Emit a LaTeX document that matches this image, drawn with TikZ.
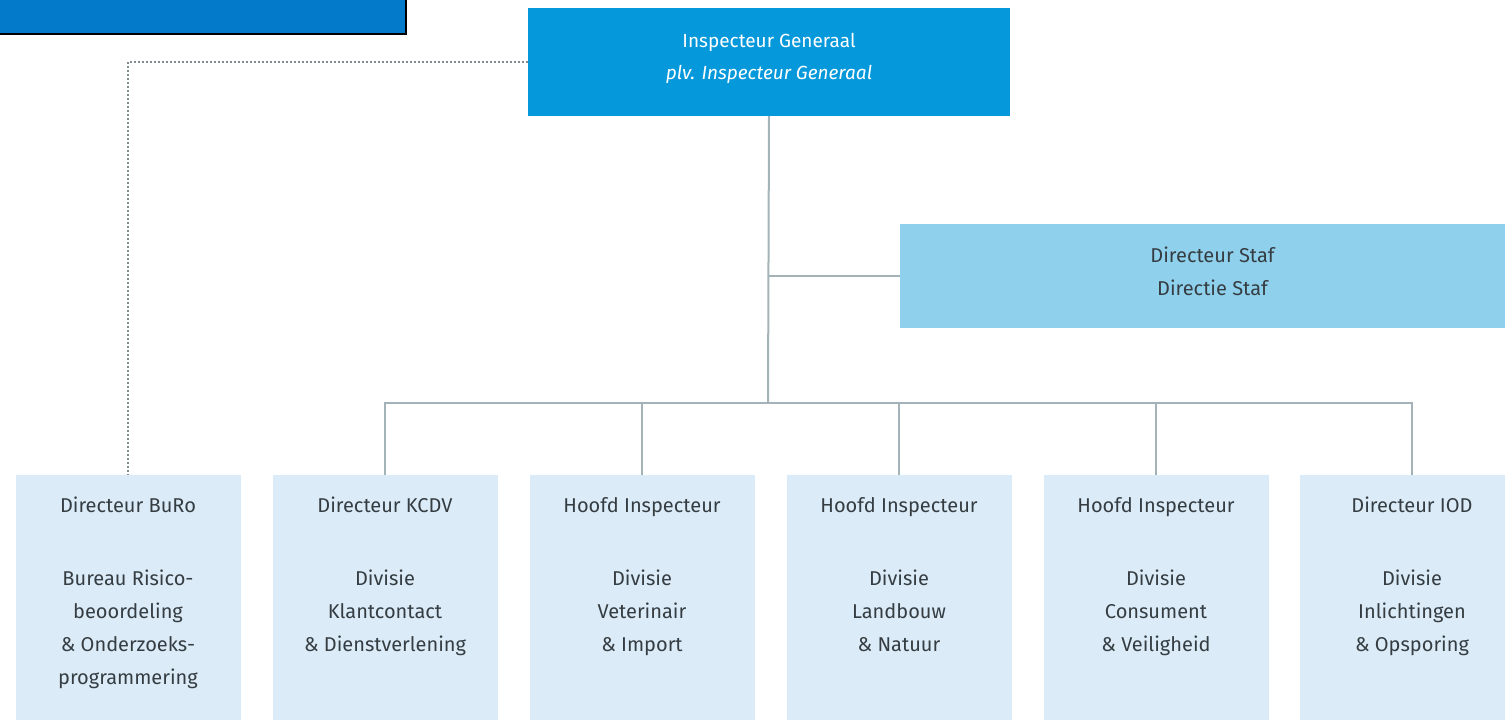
\documentclass[tikz,border=0pt]{standalone}
\usepackage{fontspec}
\setmainfont{Fira Sans}
\usetikzlibrary{positioning}
\definecolor{bannerblue}{HTML}{037ACA}
\definecolor{igblue}{HTML}{0598DB}
\definecolor{stafblue}{HTML}{8FD1EC}
\definecolor{divblue}{HTML}{DBECF8}
\definecolor{linegray}{HTML}{A3B3B8}
\definecolor{dashgray}{HTML}{7F8C90}
\definecolor{txtgray}{HTML}{353D42}

\begin{document}
\begin{tikzpicture}[x=1pt,y=-1pt,
    banner/.style={fill=bannerblue,draw=black,line width=2pt,minimum width=411pt,minimum height=39pt},
    igbox/.style={fill=igblue,text=white,minimum width=482pt,minimum height=108pt,align=center,
        text depth=12pt,font=\fontsize{19}{32}\selectfont},
    stafbox/.style={fill=stafblue,text=txtgray,minimum width=625pt,minimum height=104pt,align=center,
        text depth=9pt,font=\fontsize{20}{33}\selectfont},
    divbox/.style={fill=divblue,minimum width=225pt,minimum height=255pt},
    divtext/.style={text=txtgray,align=center,inner sep=0pt,font=\fontsize{20}{33}\selectfont},
    orgline/.style={draw=linegray,line width=2pt},
    dashline/.style={draw=dashgray,line width=1.5pt,dash pattern=on 2pt off 2pt}]
    \useasboundingbox (0,0) rectangle (1505,720);
    \node[banner] (banner) at (200.5,14.5) {};
    \node[igbox] (ig) at (769,62) {Inspecteur Generaal\\{\itshape plv. Inspecteur Generaal}};
    \node[stafbox] (staf) at (1212.5,276) {Directeur Staf\\Directie Staf};
    \coordinate (bus) at (768,403);
    \foreach \nm/\cx/\kop/\tekst in {
        buro/128/{Directeur BuRo}/{Bureau Risico-\\beoordeling\\\& Onderzoeks-\\programmering},
        kcdv/385/{Directeur KCDV}/{Divisie\\Klantcontact\\\& Dienstverlening},
        vi/642/{Hoofd Inspecteur}/{Divisie\\Veterinair\\\& Import},
        ln/899/{Hoofd Inspecteur}/{Divisie\\Landbouw\\\& Natuur},
        cv/1156/{Hoofd Inspecteur}/{Divisie\\Consument\\\& Veiligheid},
        iod/1412/{Directeur IOD}/{Divisie\\Inlichtingen\\\& Opsporing}}{
        \node[divbox] (\nm) at (\cx,602.5) {};
        \node[divtext, below=22pt of \nm.north] (\nm txt) {\kop\\[40pt]\tekst};
    }
    \draw[dashline] (ig.west) -| (buro.north);
    \draw[orgline] (ig.south) -- (bus);
    \draw[orgline] (ig.south |- staf.west) -- (staf.west);
    \foreach \nm in {kcdv,vi,ln,cv,iod}
        \draw[orgline] (bus) -| (\nm.north);
\end{tikzpicture}
\end{document}
